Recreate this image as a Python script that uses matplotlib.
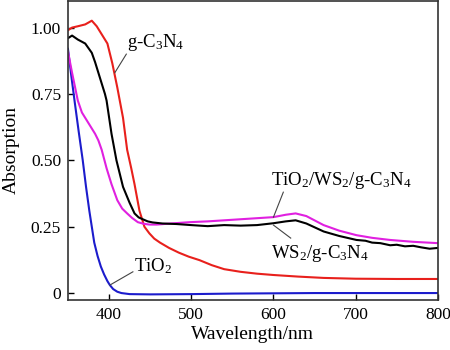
import matplotlib
matplotlib.use("Agg")
import matplotlib.pyplot as plt
from matplotlib.ticker import FixedLocator, FixedFormatter

plt.rcParams['font.family'] = ['Liberation Serif', 'DejaVu Serif']
plt.rcParams['mathtext.fontset'] = 'custom'
plt.rcParams['mathtext.rm'] = 'Liberation Serif'
plt.rcParams['mathtext.it'] = 'Liberation Serif:italic'

# g-C3N4 (red)
wl_gcn = [350, 355, 362, 371, 379, 385, 392, 398, 404, 410, 417, 422, 427, 431, 437, 443, 449, 455, 462, 473, 485, 497, 510, 525, 540, 560, 580, 600, 630, 661, 700, 750, 800]
ab_gcn = [0.99, 1.00, 1.005, 1.012, 1.026, 1.005, 0.97, 0.94, 0.865, 0.775, 0.66, 0.54, 0.47, 0.41, 0.31, 0.25, 0.225, 0.205, 0.19, 0.17, 0.152, 0.137, 0.124, 0.105, 0.09, 0.08, 0.073, 0.068, 0.062, 0.057, 0.054, 0.053, 0.053]

# TiO2 (blue)
wl_tio2 = [350, 354, 358, 363, 368, 372, 376, 379, 382, 386, 390, 394, 398, 401, 405, 410, 415, 425, 450, 500, 550, 600, 650, 700, 750, 800]
ab_tio2 = [0.92, 0.82, 0.725, 0.61, 0.50, 0.40, 0.31, 0.25, 0.19, 0.14, 0.10, 0.07, 0.045, 0.03, 0.015, 0.005, 0.0, -0.004, -0.005, -0.004, -0.002, -0.001, 0.0, 0.0, 0.0, 0.0]

# WS2/g-C3N4 (black)
wl_ws = [350, 355, 362, 371, 379, 383, 389, 395, 397, 403, 409, 417, 425, 431, 436, 441, 447, 453, 465, 482, 500, 520, 540, 560, 580, 600, 615, 627, 640, 661, 680, 701, 712, 720, 730, 742, 750, 760, 770, 780, 790, 800]
ab_ws = [0.96, 0.97, 0.955, 0.94, 0.905, 0.87, 0.81, 0.75, 0.725, 0.60, 0.50, 0.40, 0.34, 0.30, 0.285, 0.278, 0.27, 0.266, 0.262, 0.26, 0.256, 0.252, 0.256, 0.254, 0.256, 0.263, 0.27, 0.274, 0.262, 0.232, 0.215, 0.20, 0.197, 0.19, 0.188, 0.18, 0.182, 0.176, 0.178, 0.172, 0.167, 0.17]

# TiO2/WS2/g-C3N4 (magenta)
wl_tw = [350, 355, 362, 367, 373, 378, 383, 387, 391, 397, 403, 410, 416, 422, 428, 435, 442, 449, 458, 475, 498, 520, 540, 570, 600, 615, 627, 640, 661, 680, 701, 720, 742, 770, 800]
ab_tw = [0.91, 0.83, 0.725, 0.68, 0.65, 0.625, 0.60, 0.575, 0.54, 0.47, 0.41, 0.35, 0.318, 0.30, 0.283, 0.267, 0.261, 0.258, 0.258, 0.262, 0.267, 0.27, 0.274, 0.28, 0.286, 0.295, 0.30, 0.29, 0.256, 0.235, 0.218, 0.208, 0.20, 0.193, 0.188]

y_ticks = [0, 0.25, 0.50, 0.75, 1.00]
y_labels = ['0', '0.25', '0.50', '0.75', '1.00']
x_ticks = [400, 500, 600, 700, 800]
x_labels = ['400', '500', '600', '700', '800']

fig = plt.figure(figsize=(4.5, 3.5), dpi=100)
ax = fig.add_axes([0.151, 0.143, 0.822, 0.854])

lw = 1.5
ax.plot(wl_gcn, ab_gcn, color='#e8201c', lw=lw)
ax.plot(wl_tio2, ab_tio2, color='#1c1ccc', lw=lw)
ax.plot(wl_tw, ab_tw, color='#e020e0', lw=lw)
ax.plot(wl_ws, ab_ws, color='black', lw=lw)

ax.set_xlim(350, 800)
ax.set_ylim(-0.026, 1.10)
ax.xaxis.set_major_locator(FixedLocator(x_ticks))
ax.xaxis.set_major_formatter(FixedFormatter(x_labels))
ax.yaxis.set_major_locator(FixedLocator(y_ticks))
ax.yaxis.set_major_formatter(FixedFormatter(y_labels))
ax.tick_params(direction='in', labelsize=12.5, length=4, width=1, pad=5)
for s in ax.spines.values():
    s.set_linewidth(1.2)
    s.set_color('#333333')

ax.set_xlabel('Wavelength/nm', fontsize=14, labelpad=2)
ax.set_ylabel('Absorption', fontsize=14, labelpad=8)

fs = 13.5
kw = dict(color='#444444', lw=0.8)
ax.plot([421, 407], [0.90, 0.83], **kw)
ax.text(422, 0.945, r'g-C$_3$N$_4$', fontsize=fs, va='center', ha='left')
ax.plot([429, 401], [0.08, 0.03], **kw)
ax.text(430, 0.10, r'TiO$_2$', fontsize=fs, va='center', ha='left')
ax.plot([612, 600], [0.38, 0.286], **kw)
ax.text(597, 0.425, r'TiO$_2$/WS$_2$/g-C$_3$N$_4$', fontsize=fs, va='center', ha='left')
ax.plot([600, 621], [0.256, 0.207], **kw)
ax.text(597, 0.15, r'WS$_2$/g-C$_3$N$_4$', fontsize=fs, va='center', ha='left')

fig.savefig('out.png', dpi=100)
